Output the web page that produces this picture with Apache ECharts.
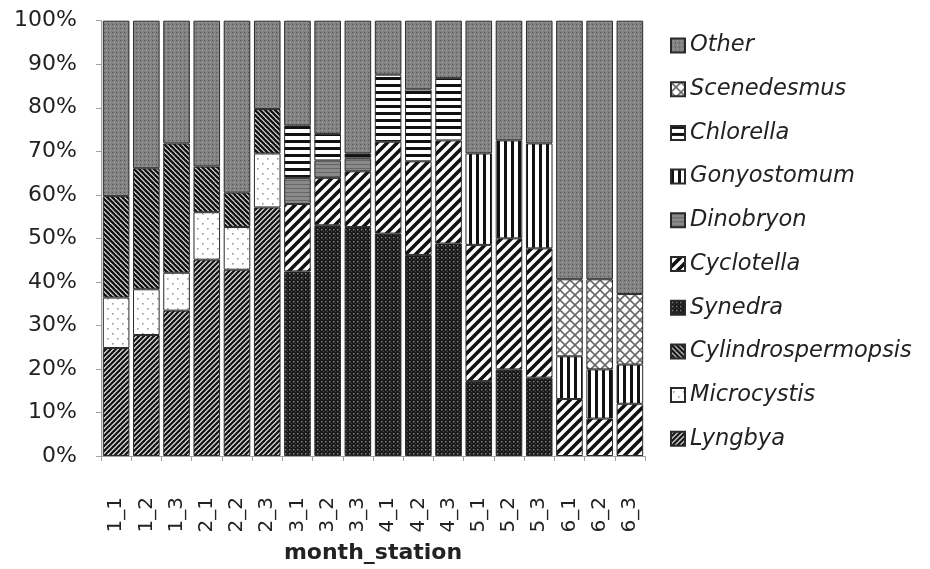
<!DOCTYPE html>
<html>
<head>
<meta charset="utf-8">
<script src="https://cdn.jsdelivr.net/npm/echarts@6/dist/echarts.min.js"></script>
<style>
html,body{margin:0;padding:0;background:#fff;}
#chart{width:930px;height:569px;}
</style>
</head>
<body>
<div id="chart"></div>
<script>
// ---- data (percent of each bar) ----
const categories = ['1_1','1_2','1_3','2_1','2_2','2_3','3_1','3_2','3_3','4_1','4_2','4_3','5_1','5_2','5_3','6_1','6_2','6_3'];
const yTicks = [0,10,20,30,40,50,60,70,80,90,100];
const lyngbya      = [24.8,27.8,33.4,45.1,42.8,57.1, 0,0,0, 0,0,0, 0,0,0, 0,0,0];
const microcystis  = [11.6,10.5, 8.7,10.9, 9.8,12.4, 0,0,0, 0,0,0, 0,0,0, 0,0,0];
const cylindro     = [23.3,27.8,29.7,10.5, 7.9,10.2, 0,0,0, 0,0,0, 0,0,0, 0,0,0];
const synedra      = [0,0,0,0,0,0, 42.4,53.0,52.6, 51.1,46.2,48.8, 17.2,19.9,18.0, 0,0,0];
const cyclotella   = [0,0,0,0,0,0, 15.5,10.9,12.8, 21.1,21.5,23.7, 31.3,30.1,29.7, 13.1,8.6,12.0];
const dinobryon    = [0,0,0,0,0,0, 6.0,4.0,3.0, 0,0,0, 0,0,0, 0,0,0];
const gonyostomum  = [0,0,0,0,0,0, 0,0,0, 0,0,0, 21.0,22.5,24.1, 9.8,11.3,9.0];
const chlorella    = [0,0,0,0,0,0, 12.0,6.1,1.1, 15.4,16.5,14.3, 0,0,0, 0,0,0];
const scenedesmus  = [0,0,0,0,0,0, 0,0,0, 0,0,0, 0,0,0, 17.7,20.7,16.2];
const other        = [40.3,33.9,28.2,33.5,39.5,20.3, 24.1,26.0,30.5, 12.4,15.8,13.2, 30.5,27.5,28.2, 59.4,59.4,62.8];

// ---- fill patterns ----
function mk(w,h,draw){const c=document.createElement('canvas');c.width=w;c.height=h;const g=c.getContext('2d');draw(g,w,h);return c;}
function diag(n,dir,lw,fg,bg){
  return mk(n,n,(g)=>{
    g.fillStyle=bg;g.fillRect(0,0,n,n);
    g.strokeStyle=fg;g.lineWidth=lw;g.lineCap='square';
    for(const k of [-n,0,n]){
      g.beginPath();
      if(dir==='/'){g.moveTo(k,n);g.lineTo(k+n,0);}
      else {g.moveTo(k,0);g.lineTo(k+n,n);}
      g.stroke();
    }
  });
}
const P = {
  other: mk(4,4,g=>{g.fillStyle='#828282';g.fillRect(0,0,4,4);g.fillStyle='#555';g.fillRect(0,0,1,1);g.fillStyle='#a8a8a8';g.fillRect(2,2,1,1);}),
  scen: mk(10,10,g=>{g.fillStyle='#fff';g.fillRect(0,0,10,10);g.strokeStyle='#6a6a6a';g.lineWidth=1.6;
        for(const k of [-10,0,10]){g.beginPath();g.moveTo(k,10);g.lineTo(k+10,0);g.stroke();g.beginPath();g.moveTo(k,0);g.lineTo(k+10,10);g.stroke();}}),
  chlor: mk(6,7,g=>{g.fillStyle='#fff';g.fillRect(0,0,6,7);g.fillStyle='#111';g.fillRect(0,0,6,3);}),
  gony: mk(7,6,g=>{g.fillStyle='#fff';g.fillRect(0,0,7,6);g.fillStyle='#111';g.fillRect(0,0,3,6);}),
  dino: mk(4,4,g=>{g.fillStyle='#8a8a8a';g.fillRect(0,0,4,4);g.fillStyle='#666';g.fillRect(0,0,4,1);}),
  cyclo: diag(10,'/',3.6,'#111','#fff'),
  syn: mk(4,4,g=>{g.fillStyle='#1a1a1a';g.fillRect(0,0,4,4);g.fillStyle='#8a8a8a';g.fillRect(1,1,1.4,1.4);g.fillStyle='#4a4a4a';g.fillRect(3,3,1,1);}),
  cylin: diag(5,'\\',2.3,'#111','#d8d8d8'),
  micro: mk(10,10,g=>{g.fillStyle='#fff';g.fillRect(0,0,10,10);g.fillStyle='#999';g.fillRect(2,3,1.6,1.6);g.fillRect(7,8,1.6,1.6);}),
  lyng: diag(5,'/',2.2,'#111','#d8d8d8')
};

const seriesDefs = [
  ['Lyngbya', lyngbya, P.lyng],
  ['Microcystis', microcystis, P.micro],
  ['Cylindrospermopsis', cylindro, P.cylin],
  ['Synedra', synedra, P.syn],
  ['Cyclotella', cyclotella, P.cyclo],
  ['Dinobryon', dinobryon, P.dino],
  ['Gonyostomum', gonyostomum, P.gony],
  ['Chlorella', chlorella, P.chlor],
  ['Scenedesmus', scenedesmus, P.scen],
  ['Other', other, P.other]
];

const FONT = 'DejaVu Sans';
const chart = echarts.init(document.getElementById('chart'), null, {renderer:'canvas'});
chart.setOption({
  animation:false,
  backgroundColor:'#fff',
  grid:{left:101, right:285, top:20.7, bottom:105.7, containLabel:false},
  legend:{
    orient:'vertical', left:665, top:29,
    data:seriesDefs.map(s=>s[0]).reverse(),
    icon:'rect', itemWidth:14, itemHeight:14, itemGap:20.7,
    textStyle:{fontFamily:FONT, fontStyle:'italic', fontSize:22.5, color:'#222'}
  },
  xAxis:{
    type:'category', data:categories,
    axisLine:{lineStyle:{color:'#a0a0a0', width:1}},
    axisTick:{show:true, length:5, lineStyle:{color:'#a0a0a0'}},
    axisLabel:{rotate:90, margin:41, fontFamily:FONT, fontSize:20, color:'#222', interval:0},
    name:'month_station', nameLocation:'middle', nameGap:86,
    nameTextStyle:{fontFamily:FONT, fontWeight:'bold', fontSize:22, color:'#222'}
  },
  yAxis:{
    type:'value', min:yTicks[0], max:yTicks[yTicks.length-1], interval:yTicks[1]-yTicks[0],
    axisLine:{show:true, lineStyle:{color:'#a0a0a0'}},
    axisTick:{show:true, length:5, lineStyle:{color:'#a0a0a0'}},
    splitLine:{show:false},
    axisLabel:{formatter:'{value}%', margin:24, fontFamily:FONT, fontSize:22, color:'#222'}
  },
  series:seriesDefs.map(([name, vals, pat])=>({
    name, type:'bar', stack:'total', barCategoryGap:'12%',
    data:vals.map(v=>v===0?'-':v),
    itemStyle:{color:{image:pat, repeat:'repeat'}, borderColor:'#2a2a2a', borderWidth:1}
  }))
});
</script>
</body>
</html>
